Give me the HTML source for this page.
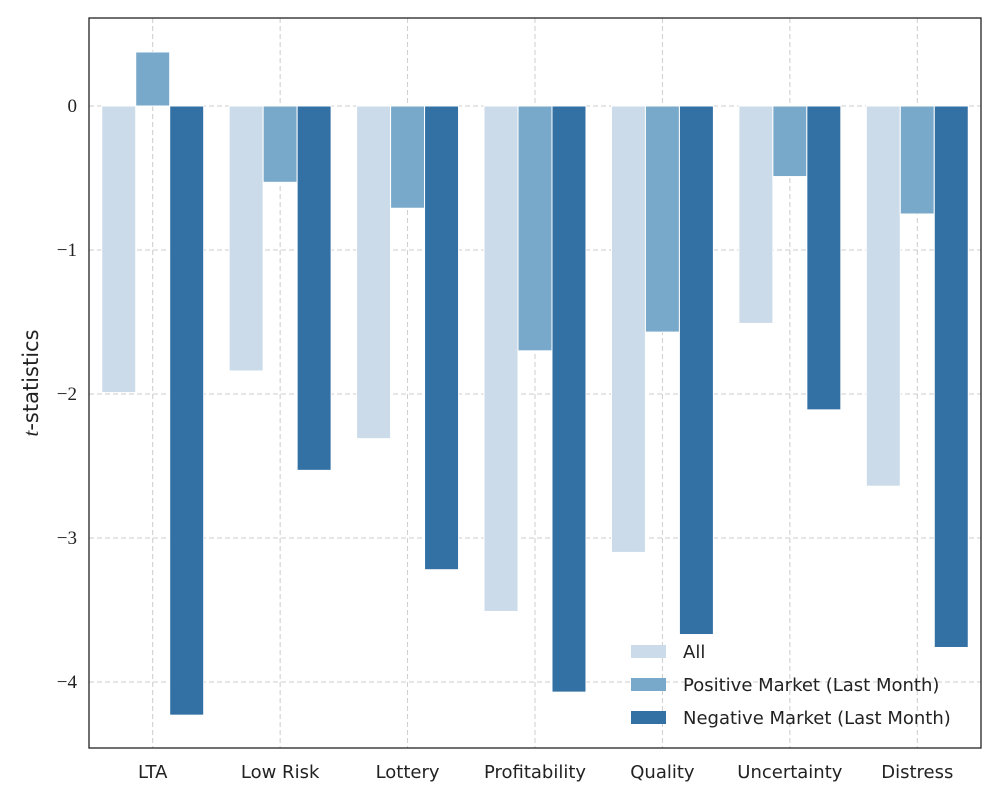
<!DOCTYPE html>
<html><head><meta charset="utf-8"><style>
html,body{margin:0;padding:0;background:#fff;}
svg{display:block;}
</style></head><body>
<svg id="chart" width="1000" height="800" xmlns="http://www.w3.org/2000/svg"></svg>
<script>
const categories = ["LTA","Low Risk","Lottery","Profitability","Quality","Uncertainty","Distress"];
const allValues = [-1.99,-1.84,-2.31,-3.51,-3.10,-1.51,-2.64];
const positiveValues = [0.375,-0.53,-0.71,-1.70,-1.57,-0.49,-0.75];
const negativeValues = [-4.23,-2.53,-3.22,-4.07,-3.67,-2.11,-3.76];
const seriesNames = ["All","Positive Market (Last Month)","Negative Market (Last Month)"];
const yTicks = [0,-1,-2,-3,-4];
const yTickLabels = ["0","\u22121","\u22122","\u22123","\u22124"];

const NS="http://www.w3.org/2000/svg";
const svg=document.getElementById('chart');
const L=89,R=981,T=18,B=748;
const yMax=0.611,yMin=-4.458;
const colors=["#cbdbea","#78a9ca","#3370a4"];
const series=[allValues,positiveValues,negativeValues];
function y(v){return T+(yMax-v)/(yMax-yMin)*(B-T);}
const bw=(R-L)/categories.length;
function xc(i){return L+(i+0.5)*bw;}
function mk(tag,attrs,parent){const e=document.createElementNS(NS,tag);for(const k in attrs)e.setAttribute(k,attrs[k]);(parent||svg).appendChild(e);return e;}

// grid
yTicks.forEach((t,i)=>{
  const g=mk('line',{x1:L,x2:R,y1:y(t),y2:y(t),stroke:'#cccccc','stroke-dasharray':'5,3','stroke-width':1});
  
  
  const tx=mk('text',{x:L-12,y:y(t)+6,'text-anchor':'end','font-family':'Liberation Serif, serif','font-size':19,fill:'#222'});
  tx.textContent=yTickLabels[i];
  
  
});
categories.forEach((c,i)=>{
  const g=mk('line',{x1:xc(i),x2:xc(i),y1:T,y2:B,stroke:'#cccccc','stroke-dasharray':'5,3','stroke-width':1});
  
  
  const tx=mk('text',{x:xc(i),y:778,'text-anchor':'middle','font-family':'DejaVu Sans, Liberation Sans, sans-serif','font-size':18,fill:'#222'});
  tx.textContent=c;
  
  
});
// bars
const barW=bw*0.8/3;
series.forEach((vals,s)=>{
  vals.forEach((v,i)=>{
    const x0=xc(i)-bw*0.4+s*barW;
    const r=mk('rect',{x:x0,y:Math.min(y(0),y(v)),width:barW,height:Math.abs(y(v)-y(0)),fill:colors[s],stroke:'#fff','stroke-width':1});
    
    
  });
});
// frame
const fr=mk('rect',{x:L,y:T,width:R-L,height:B-T,fill:'none',stroke:'#222','stroke-width':1.3});


// y title
const yt=mk('text',{transform:'translate(38,'+((T+B)/2)+') rotate(-90)','text-anchor':'middle','font-family':'DejaVu Sans, Liberation Sans, sans-serif','font-size':21,fill:'#222'});
yt.innerHTML='<tspan font-style="italic" font-family="Liberation Serif, serif">t</tspan>-statistics';


// legend
seriesNames.forEach((n,s)=>{
  const yy=651+s*33;
  const p=mk('rect',{x:631,y:yy-6,width:35,height:13,fill:colors[s]});
  
  
  const t=mk('text',{x:683,y:yy+7,'font-family':'DejaVu Sans, Liberation Sans, sans-serif','font-size':18,fill:'#222'});
  t.textContent=n;
  
  
});
</script>
</body></html>
